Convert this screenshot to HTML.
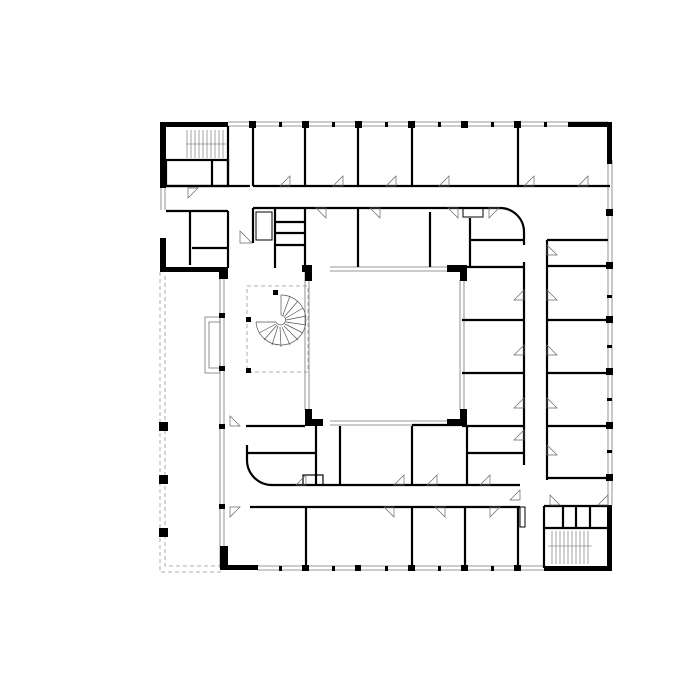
<!DOCTYPE html>
<html><head><style>html,body{margin:0;padding:0;background:#fff}svg{display:block}</style></head>
<body>
<svg width="700" height="700" viewBox="0 0 700 700" xmlns="http://www.w3.org/2000/svg">
<rect width="700" height="700" fill="#fff"/>
<!-- terrace dashed -->
<g fill="none" stroke="#999" stroke-width="0.8" stroke-dasharray="4,3">
<polyline points="160,272 160,572 221,572"/>
<polyline points="165,276 165,566 221,566"/>
<rect x="247" y="286" width="61" height="86"/>
</g>
<!-- facade double lines -->
<g stroke="#777" stroke-width="0.8" fill="none">
<line x1="228" y1="122" x2="608" y2="122"/><line x1="228" y1="126" x2="608" y2="126"/>
<line x1="608" y1="160" x2="608" y2="505"/><line x1="612" y1="160" x2="612" y2="505"/>
<line x1="220" y1="272" x2="220" y2="568"/><line x1="224" y1="272" x2="224" y2="568"/>
<line x1="257" y1="566" x2="544" y2="566"/><line x1="257" y1="570" x2="544" y2="570"/>
<line x1="161" y1="188" x2="161" y2="210"/><line x1="165" y1="188" x2="165" y2="210"/>
<line x1="305" y1="270" x2="305" y2="410"/><line x1="309" y1="270" x2="309" y2="410"/>
<line x1="460" y1="280" x2="460" y2="410"/><line x1="464" y1="280" x2="464" y2="410"/>
<line x1="330" y1="267" x2="450" y2="267"/><line x1="330" y1="271" x2="450" y2="271"/>
<line x1="330" y1="421" x2="450" y2="421"/><line x1="330" y1="425" x2="450" y2="425"/>
<rect x="205" y="317" width="15" height="56"/><rect x="209" y="322" width="11" height="46"/>
</g>
<!-- facade piers -->
<g fill="#000">
<rect x="249" y="121" width="7" height="7"/><rect x="302" y="121" width="7" height="7"/><rect x="355" y="121" width="7" height="7"/><rect x="408" y="121" width="7" height="7"/><rect x="461" y="121" width="7" height="7"/><rect x="514" y="121" width="7" height="7"/>
<rect x="279" y="122" width="3" height="5"/><rect x="332" y="122" width="3" height="5"/><rect x="385" y="122" width="3" height="5"/><rect x="438" y="122" width="3" height="5"/><rect x="491" y="122" width="3" height="5"/><rect x="544" y="122" width="3" height="5"/>
<rect x="606" y="209" width="7" height="7"/><rect x="606" y="262" width="7" height="7"/><rect x="606" y="316" width="7" height="7"/><rect x="606" y="368" width="7" height="7"/><rect x="606" y="422" width="7" height="7"/><rect x="606" y="474" width="7" height="7"/>
<rect x="607" y="295" width="5" height="3"/><rect x="607" y="345" width="5" height="3"/><rect x="607" y="398" width="5" height="3"/><rect x="607" y="450" width="5" height="3"/>
<rect x="302" y="565" width="7" height="6"/><rect x="355" y="565" width="6" height="6"/><rect x="408" y="565" width="7" height="6"/><rect x="461" y="565" width="7" height="6"/><rect x="514" y="565" width="7" height="6"/>
<rect x="279" y="566" width="3" height="5"/><rect x="332" y="566" width="3" height="5"/><rect x="385" y="566" width="3" height="5"/><rect x="438" y="566" width="3" height="5"/><rect x="491" y="566" width="3" height="5"/>
<rect x="159" y="422" width="9" height="9"/><rect x="159" y="475" width="9" height="9"/><rect x="159" y="528" width="9" height="9"/>
<rect x="219" y="313" width="6" height="5"/><rect x="219" y="366" width="6" height="5"/><rect x="219" y="424" width="6" height="5"/><rect x="219" y="504" width="6" height="5"/>
<rect x="246" y="317" width="5" height="5"/><rect x="246" y="368" width="5" height="5"/><rect x="273" y="290" width="5" height="5"/>
<!-- corners -->
<rect x="160" y="122" width="68" height="5"/><rect x="160" y="122" width="6" height="66"/>
<rect x="568" y="122" width="44" height="5"/><rect x="607" y="122" width="5" height="42"/>
<rect x="160" y="238" width="6" height="34"/><rect x="160" y="267" width="68" height="5"/><rect x="219" y="267" width="9" height="12"/>
<rect x="220" y="546" width="8" height="24"/><rect x="220" y="565" width="38" height="5"/>
<rect x="544" y="566" width="68" height="5"/><rect x="607" y="505" width="5" height="66"/>
<!-- courtyard corners -->
<rect x="302" y="265" width="10" height="7"/><rect x="305" y="265" width="7" height="16"/>
<rect x="447" y="265" width="17" height="7"/><rect x="460" y="265" width="7" height="16"/>
<rect x="305" y="409" width="7" height="17"/><rect x="305" y="419" width="18" height="7"/>
<rect x="447" y="419" width="17" height="7"/><rect x="460" y="409" width="7" height="17"/>
</g>
<!-- walls -->
<g stroke="#000" stroke-width="2.2" fill="none">
<!-- upper left core -->
<rect x="166" y="160" width="62" height="26"/><line x1="212" y1="160" x2="212" y2="186"/>
<line x1="228" y1="126" x2="228" y2="186"/>
<rect x="228" y="210" width="0" height="58"/>
<line x1="166" y1="211" x2="228" y2="211"/><line x1="228" y1="211" x2="228" y2="268"/>
<line x1="190" y1="211" x2="190" y2="265"/><line x1="192" y1="248" x2="228" y2="248"/>
<!-- top corridor -->
<line x1="166" y1="186" x2="250" y2="186"/><line x1="253" y1="186" x2="610" y2="186"/>
<line x1="253" y1="126" x2="253" y2="186"/><line x1="305" y1="126" x2="305" y2="186"/><line x1="358" y1="126" x2="358" y2="186"/><line x1="412" y1="126" x2="412" y2="186"/><line x1="518" y1="126" x2="518" y2="186"/>
<path d="M253,208 H500 A24,24 0 0 1 524,232 V245"/>
<line x1="253" y1="208" x2="253" y2="243"/><line x1="275" y1="208" x2="275" y2="268"/>
<line x1="275" y1="222" x2="305" y2="222"/><line x1="275" y1="233" x2="305" y2="233"/><line x1="275" y1="245" x2="305" y2="245"/>
<line x1="305" y1="208" x2="305" y2="268"/><line x1="358" y1="208" x2="358" y2="267"/><line x1="430" y1="212" x2="430" y2="267"/>
<line x1="470" y1="218" x2="470" y2="267"/><line x1="470" y1="240" x2="524" y2="240"/><line x1="464" y1="267" x2="524" y2="267"/>
<!-- right inner column -->
<line x1="524" y1="262" x2="524" y2="465"/>
<line x1="462" y1="320" x2="524" y2="320"/><line x1="462" y1="373" x2="524" y2="373"/><line x1="462" y1="426" x2="524" y2="426"/><line x1="467" y1="453" x2="524" y2="453"/>
<line x1="467" y1="426" x2="467" y2="485"/>
<!-- right outer column -->
<line x1="547" y1="240" x2="547" y2="480"/>
<line x1="547" y1="240" x2="608" y2="240"/><line x1="547" y1="266" x2="608" y2="266"/><line x1="547" y1="320" x2="608" y2="320"/><line x1="547" y1="373" x2="608" y2="373"/><line x1="547" y1="426" x2="608" y2="426"/><line x1="547" y1="478" x2="608" y2="478"/>
<!-- bottom inner -->
<line x1="246" y1="426" x2="305" y2="426"/><line x1="316" y1="426" x2="316" y2="485"/>
<line x1="247" y1="453" x2="316" y2="453"/>
<path d="M247,445 V460 A25,25 0 0 0 272,485 H520"/>
<line x1="340" y1="426" x2="340" y2="485"/><line x1="412" y1="426" x2="412" y2="485"/>
<line x1="412" y1="425" x2="460" y2="425"/>
<rect x="303" y="475" width="20" height="10" stroke-width="1.2"/>
<!-- bottom corridor -->
<line x1="250" y1="507" x2="520" y2="507"/>
<line x1="306" y1="507" x2="306" y2="566"/><line x1="412" y1="507" x2="412" y2="566"/><line x1="465" y1="507" x2="465" y2="566"/><line x1="518" y1="507" x2="518" y2="566"/>
<!-- lower right core -->
<line x1="544" y1="506" x2="608" y2="506"/><line x1="544" y1="506" x2="544" y2="568"/>
<line x1="544" y1="528" x2="608" y2="528"/><line x1="563" y1="507" x2="563" y2="528"/><line x1="576" y1="507" x2="576" y2="528"/><line x1="590" y1="507" x2="590" y2="528"/>
</g>
<g stroke="#000" stroke-width="1" fill="none">
<rect x="256" y="212" width="16" height="28"/><rect x="463" y="208" width="20" height="9"/>
<rect x="520" y="507" width="5" height="20"/>
<!-- stairs upper left -->
<g stroke="#666" stroke-width="0.6">
<line x1="187" y1="130" x2="187" y2="158"/><line x1="191" y1="130" x2="191" y2="158"/><line x1="195" y1="130" x2="195" y2="158"/><line x1="199" y1="130" x2="199" y2="158"/><line x1="203" y1="130" x2="203" y2="158"/><line x1="207" y1="130" x2="207" y2="158"/><line x1="211" y1="130" x2="211" y2="158"/><line x1="215" y1="130" x2="215" y2="158"/><line x1="219" y1="130" x2="219" y2="158"/><line x1="223" y1="130" x2="223" y2="158"/>
<line x1="186" y1="144" x2="228" y2="144"/>
<line x1="552" y1="531" x2="552" y2="564"/><line x1="556" y1="531" x2="556" y2="564"/><line x1="560" y1="531" x2="560" y2="564"/><line x1="564" y1="531" x2="564" y2="564"/><line x1="568" y1="531" x2="568" y2="564"/><line x1="572" y1="531" x2="572" y2="564"/><line x1="576" y1="531" x2="576" y2="564"/><line x1="580" y1="531" x2="580" y2="564"/><line x1="584" y1="531" x2="584" y2="564"/><line x1="588" y1="531" x2="588" y2="564"/>
<line x1="548" y1="546" x2="592" y2="546"/>
</g>
<!-- spiral -->
<g stroke="#555" stroke-width="0.7">
<path d="M281,295 A25,25 0 1 1 256,322"/>
<path d="M281,315 A5,5 0 1 1 276,322"/>
<line x1="281" y1="295" x2="281" y2="315"/><line x1="290" y1="296" x2="283" y2="315"/><line x1="298" y1="301" x2="285" y2="316"/><line x1="303" y1="308" x2="286" y2="318"/><line x1="306" y1="316" x2="286" y2="320"/><line x1="306" y1="325" x2="286" y2="322"/><line x1="303" y1="333" x2="285" y2="324"/><line x1="298" y1="340" x2="284" y2="326"/><line x1="290" y1="345" x2="282" y2="327"/><line x1="281" y1="347" x2="280" y2="327"/><line x1="272" y1="345" x2="278" y2="326"/><line x1="264" y1="340" x2="277" y2="325"/><line x1="259" y1="333" x2="276" y2="324"/><line x1="256" y1="322" x2="276" y2="322"/>
</g>
</g>
<!-- door symbols -->
<g stroke="#666" stroke-width="0.7" fill="none">
<path d="M290,186 L280,186 L290,176 Z"/><path d="M343,186 L333,186 L343,176 Z"/><path d="M396,186 L386,186 L396,176 Z"/><path d="M449,186 L439,186 L449,176 Z"/><path d="M534,186 L524,186 L534,176 Z"/><path d="M588,186 L578,186 L588,176 Z"/>
<path d="M316,208 L326,208 L326,218 Z"/><path d="M370,208 L380,208 L380,218 Z"/><path d="M448,208 L458,208 L458,218 Z"/><path d="M489,208 L499,208 L489,218 Z"/>
<path d="M524,300 L524,290 L514,300 Z"/><path d="M524,355 L524,345 L514,355 Z"/><path d="M524,408 L524,398 L514,408 Z"/><path d="M524,440 L524,430 L514,440 Z"/>
<path d="M547,255 L547,245 L557,255 Z"/><path d="M547,300 L547,290 L557,300 Z"/><path d="M547,355 L547,345 L557,355 Z"/><path d="M547,408 L547,398 L557,408 Z"/><path d="M547,455 L547,445 L557,455 Z"/>
<path d="M296,485 L306,485 L306,475 Z"/><path d="M404,485 L394,485 L404,475 Z"/><path d="M437,485 L427,485 L437,475 Z"/><path d="M490,485 L480,485 L490,475 Z"/>
<path d="M394,507 L384,507 L394,517 Z"/><path d="M445,507 L435,507 L445,517 Z"/><path d="M490,507 L500,507 L490,517 Z"/><path d="M230,507 L240,507 L230,517 Z"/>
<path d="M230,426 L240,426 L230,416 Z"/><path d="M240,243 L252,243 L240,231 Z"/><path d="M188,188 L198,188 L188,198 Z"/>
<path d="M520,490 L510,500 L520,500 Z"/><path d="M550,505 L560,505 L550,495 Z"/><path d="M598,505 L608,505 L608,495 Z"/>
</g>
</svg>
</body></html>
